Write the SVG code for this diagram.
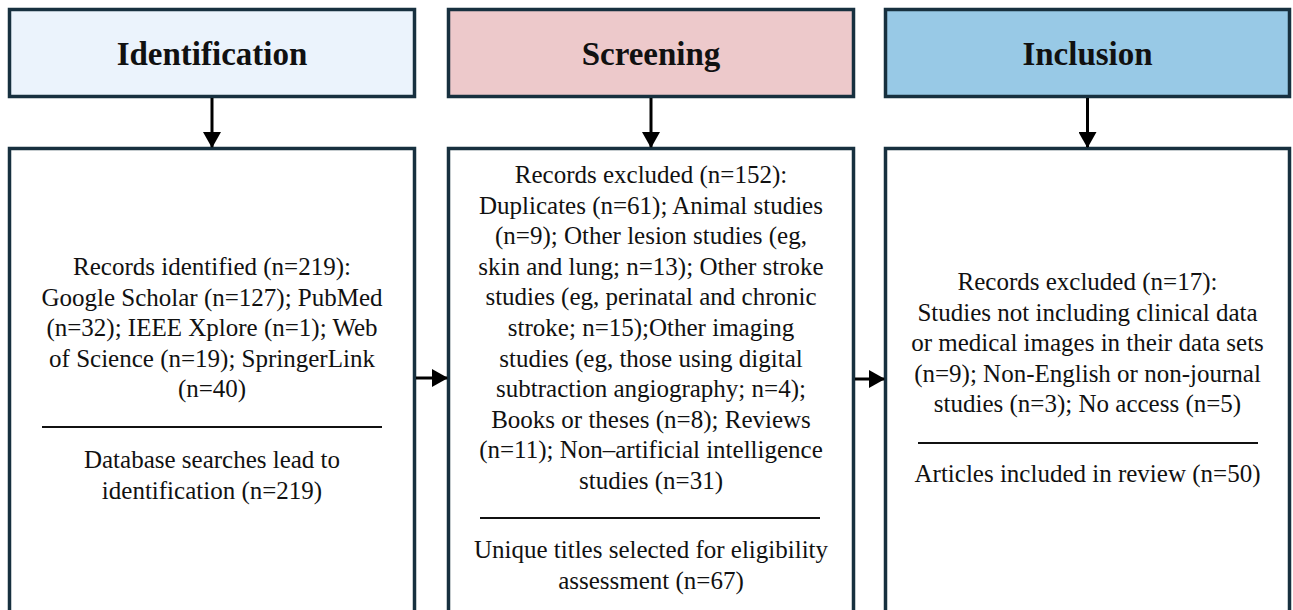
<svg xmlns="http://www.w3.org/2000/svg" width="1293" height="610" viewBox="0 0 1293 610">
<style>
.box{stroke:#17303f;stroke-width:3.5}
.hd{font-family:"Liberation Serif","Times New Roman",serif;font-weight:bold;font-size:33px;fill:#111;text-anchor:middle}
.tx{font-family:"Liberation Serif","Times New Roman",serif;font-size:25px;fill:#111;text-anchor:middle}
.div{stroke:#111;stroke-width:2.2}
.con{stroke:#000;stroke-width:3;fill:none}
</style>
<defs>
<marker id="ah" markerUnits="userSpaceOnUse" markerWidth="16" markerHeight="18" refX="15" refY="9" orient="auto">
<path d="M0,0 L16,9 L0,18 Z" fill="#000"/>
</marker>
</defs>
<rect width="1293" height="610" fill="#fff"/>
<g id="identification-header">
<rect class="box" x="9.5" y="9.5" width="405" height="87" fill="#ebf3fc"/>
<text class="hd" x="212" y="65">Identification</text>
</g>
<g id="screening-header">
<rect class="box" x="448.5" y="9.5" width="405" height="87" fill="#edc9cb"/>
<text class="hd" x="651" y="65">Screening</text>
</g>
<g id="inclusion-header">
<rect class="box" x="885.5" y="9.5" width="404" height="87" fill="#98c9e6"/>
<text class="hd" x="1087.5" y="65">Inclusion</text>
</g>
<g id="identification-box">
<rect class="box" x="9.5" y="148.5" width="405" height="470" fill="#fff"/>
<text class="tx" x="212" y="275">Records identified (n=219):</text>
<text class="tx" x="212" y="305.5">Google Scholar (n=127); PubMed</text>
<text class="tx" x="212" y="336">(n=32); IEEE Xplore (n=1); Web</text>
<text class="tx" x="212" y="366.5">of Science (n=19); SpringerLink</text>
<text class="tx" x="212" y="397">(n=40)</text>
<line class="div" x1="42" y1="427" x2="382" y2="427"/>
<text class="tx" x="212" y="468">Database searches lead to</text>
<text class="tx" x="212" y="498.5">identification (n=219)</text>
</g>
<g id="screening-box">
<rect class="box" x="448.5" y="148.5" width="405" height="470" fill="#fff"/>
<text class="tx" x="651" y="183">Records excluded (n=152):</text>
<text class="tx" x="651" y="213.6">Duplicates (n=61); Animal studies</text>
<text class="tx" x="651" y="244.2">(n=9); Other lesion studies (eg,</text>
<text class="tx" x="651" y="274.8">skin and lung; n=13); Other stroke</text>
<text class="tx" x="651" y="305.4">studies (eg, perinatal and chronic</text>
<text class="tx" x="651" y="336">stroke; n=15);Other imaging</text>
<text class="tx" x="651" y="366.6">studies (eg, those using digital</text>
<text class="tx" x="651" y="397.2">subtraction angiography; n=4);</text>
<text class="tx" x="651" y="427.8">Books or theses (n=8); Reviews</text>
<text class="tx" x="651" y="458.4">(n=11); Non–artificial intelligence</text>
<text class="tx" x="651" y="489">studies (n=31)</text>
<line class="div" x1="480" y1="518" x2="820" y2="518"/>
<text class="tx" x="651" y="558">Unique titles selected for eligibility</text>
<text class="tx" x="651" y="588.5">assessment (n=67)</text>
</g>
<g id="inclusion-box">
<rect class="box" x="885.5" y="148.5" width="404" height="470" fill="#fff"/>
<text class="tx" x="1087.5" y="290">Records excluded (n=17):</text>
<text class="tx" x="1087.5" y="320.5">Studies not including clinical data</text>
<text class="tx" x="1087.5" y="351">or medical images in their data sets</text>
<text class="tx" x="1087.5" y="381.5">(n=9); Non-English or non-journal</text>
<text class="tx" x="1087.5" y="412">studies (n=3); No access (n=5)</text>
<line class="div" x1="918" y1="443" x2="1258" y2="443"/>
<text class="tx" x="1087.5" y="482">Articles included in review (n=50)</text>
</g>
<g id="connectors">
<line class="con" x1="212" y1="98" x2="212" y2="147" marker-end="url(#ah)"/>
<line class="con" x1="651" y1="98" x2="651" y2="147" marker-end="url(#ah)"/>
<line class="con" x1="1087.5" y1="98" x2="1087.5" y2="147" marker-end="url(#ah)"/>
<line class="con" x1="416" y1="378" x2="447" y2="378" marker-end="url(#ah)"/>
<line class="con" x1="855" y1="379" x2="884" y2="379" marker-end="url(#ah)"/>
</g>
</svg>
